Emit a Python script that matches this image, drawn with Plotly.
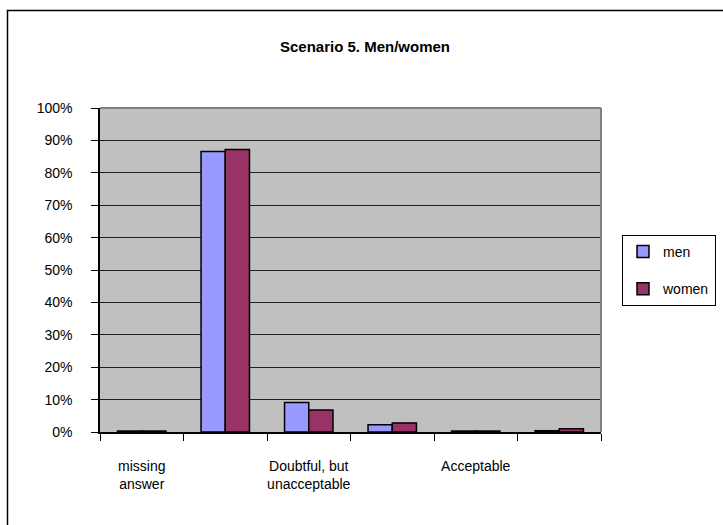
import plotly.graph_objects as go

# Response categories (positions 0..5); only every other label is printed on the axis
category_pos = [0, 1, 2, 3, 4, 5]
category_labels = ["missing<br>answer", "", "Doubtful, but<br>unacceptable", "", "Acceptable", ""]

# Share of respondents, in percent
men = [0.3, 86.6, 9.1, 2.2, 0.3, 0.4]
women = [0.3, 87.2, 6.8, 2.8, 0.3, 1.0]

y_ticks = [0, 10, 20, 30, 40, 50, 60, 70, 80, 90, 100]
y_tick_labels = ["0%", "10%", "20%", "30%", "40%", "50%", "60%", "70%", "80%", "90%", "100%"]

FONT = "Liberation Sans, Arial, sans-serif"
W, H = 723, 525
L, R, T, B = 100, 122, 108, 93
PW, PH = W - L - R, H - T - B


def px_x(px):
    return (px - L) / PW


def px_y(py):
    return (H - B - py) / PH


fig = go.Figure()
fig.add_trace(go.Bar(
    x=category_pos, y=men, name="men", legendgroup="men",
    marker=dict(color="#9999FF", line=dict(color="black", width=1.5)),
))
fig.add_trace(go.Bar(
    x=category_pos, y=women, name="women", legendgroup="women",
    marker=dict(color="#993366", line=dict(color="black", width=1.5)),
))

fig.update_layout(
    width=W, height=H,
    margin=dict(l=L, r=R, t=T, b=B, pad=0, autoexpand=False),
    paper_bgcolor="white",
    plot_bgcolor="#C0C0C0",
    barmode="group",
    bargap=0.42,
    bargroupgap=0,
    font=dict(family=FONT, size=14, color="black"),
    title=dict(
        text="<b>Scenario 5. Men/women</b>",
        x=365 / W, xanchor="center",
        y=1 - 47 / H, yanchor="middle", yref="container",
        font=dict(family=FONT, size=15, color="black"),
    ),
    showlegend=True,
    legend=dict(
        x=px_x(622), xanchor="left",
        y=px_y(235), yanchor="top",
        bgcolor="white",
        bordercolor="black", borderwidth=1,
        font=dict(family=FONT, size=14, color="black"),
        tracegroupgap=16,
        traceorder="grouped",
        itemwidth=30,
    ),
    xaxis=dict(
        range=[-0.5, 5.5],
        tickmode="array",
        tickvals=category_pos,
        ticktext=category_labels,
        ticks="",
        showgrid=False,
        zeroline=False,
        showline=True, linecolor="black", linewidth=1.5,
        ticklabelstandoff=20,
        minor=dict(
            tickmode="linear", tick0=0.5, dtick=1,
            ticks="outside", ticklen=7, tickwidth=1, tickcolor="black",
            showgrid=False,
        ),
        fixedrange=True,
    ),
    yaxis=dict(
        range=[0, 100],
        tickmode="array",
        tickvals=y_ticks,
        ticktext=y_tick_labels,
        ticks="outside", ticklen=7, tickwidth=1, tickcolor="black",
        showgrid=True, gridcolor="#202020", gridwidth=1,
        zeroline=False,
        showline=True, linecolor="black", linewidth=1.5,
        ticklabelstandoff=16,
        fixedrange=True,
    ),
    shapes=[
        # grey frame on the top and right of the plot area
        dict(type="line", xref="paper", yref="paper", x0=0, x1=1, y0=1, y1=1,
             line=dict(color="#808080", width=2), layer="above"),
        dict(type="line", xref="paper", yref="paper", x0=1, x1=1, y0=0, y1=1,
             line=dict(color="#808080", width=2), layer="above"),
        # outer chart frame
        dict(type="rect", xref="paper", yref="paper",
             x0=px_x(7.5), x1=px_x(740), y0=px_y(10.5), y1=px_y(545),
             line=dict(color="black", width=1.5), fillcolor="rgba(0,0,0,0)",
             layer="below"),
    ],
)

fig.write_html("out.html")
